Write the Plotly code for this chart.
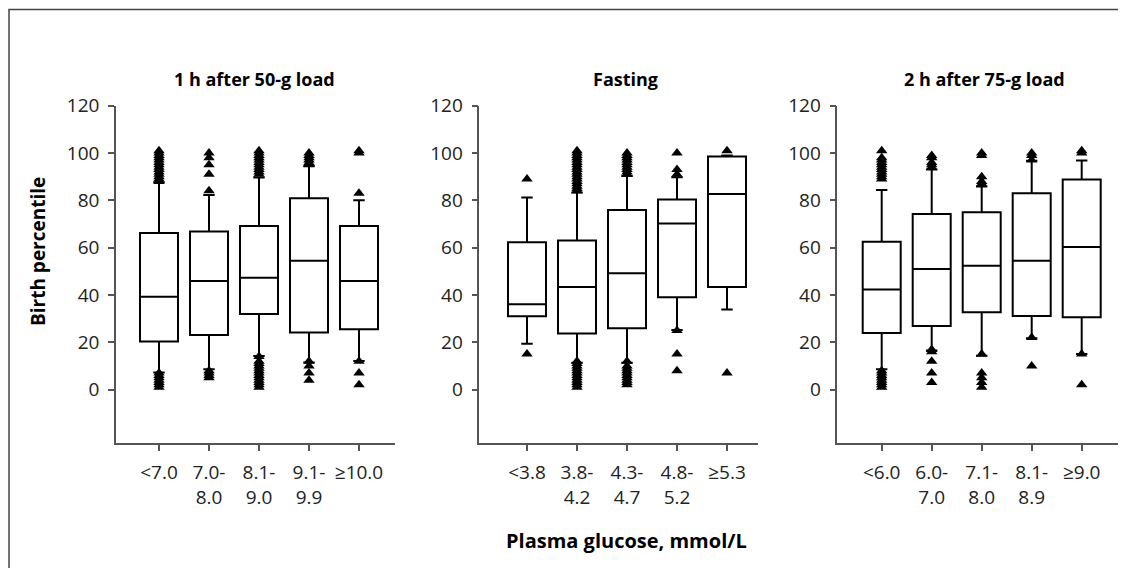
import plotly.graph_objects as go

# ---------------- data ----------------
panel_titles = ["1 h after 50-g load", "Fasting", "2 h after 75-g load"]

cats_50g = ["<7.0", "7.0-<br>8.0", "8.1-<br>9.0", "9.1-<br>9.9", "≥10.0"]
cats_fast = ["<3.8", "3.8-<br>4.2", "4.3-<br>4.7", "4.8-<br>5.2", "≥5.3"]
cats_75g = ["<6.0", "6.0-<br>7.0", "7.1-<br>8.0", "8.1-<br>8.9", "≥9.0"]

# box statistics (lower whisker, Q1, median, Q3, upper whisker)
low_50g = [7.2, 8.6, 14.2, 11.5, 12.1]
q1_50g = [20.3, 23.1, 32.0, 24.1, 25.5]
med_50g = [39.2, 45.9, 47.3, 54.5, 45.9]
q3_50g = [66.2, 66.8, 69.2, 80.9, 69.2]
up_50g = [87.6, 82.3, 89.6, 94.5, 80.0]

low_fast = [19.4, 11.4, 11.4, 25.2, 33.9]
q1_fast = [31.0, 23.7, 25.9, 39.0, 43.4]
med_fast = [36.1, 43.4, 49.2, 70.2, 82.7]
q3_fast = [62.3, 63.0, 75.9, 80.3, 98.5]
up_fast = [81.2, 83.3, 90.3, 89.8, 98.9]

low_75g = [8.6, 16.5, 14.3, 21.7, 15.0]
q1_75g = [23.9, 26.9, 32.7, 31.1, 30.6]
med_75g = [42.3, 51.0, 52.3, 54.5, 60.3]
q3_75g = [62.5, 74.2, 75.0, 83.0, 88.8]
up_75g = [84.4, 93.0, 85.8, 96.7, 96.8]

# outliers: (category index, value)
out_50g_cat = ([0] * 21) + ([1] * 9) + ([2] * 24) + ([3] * 10) + ([4] * 6)
out_50g_val = [88, 89, 90, 91, 92, 93, 94, 95, 96, 97, 98, 99, 100, 101, 1, 2, 3, 4, 5, 6, 7,
               84, 91, 95, 98, 100, 5, 6, 7, 8,
               91, 92, 93, 94, 95, 96, 97, 98, 99, 100, 101, 1, 2, 3, 4, 5, 6, 7, 8, 9, 10, 11, 12, 14,
               95, 96, 97, 98, 99, 100, 4, 7, 10, 12,
               83, 100, 101, 2, 7, 12]

out_fast_cat = ([0] * 2) + ([1] * 30) + ([2] * 20) + ([3] * 6) + ([4] * 2)
out_fast_val = [89, 15,
                84, 85, 86, 87, 88, 89, 90, 91, 92, 93, 94, 95, 96, 97, 98, 99, 100, 101,
                1, 2, 3, 4, 5, 6, 7, 8, 9, 10, 11, 12,
                91, 92, 93, 94, 95, 96, 97, 98, 99, 100, 2, 3, 4, 5, 6, 7, 8, 9, 10, 12,
                91, 93, 100, 25, 15, 8,
                101, 7]

out_75g_cat = ([0] * 19) + ([1] * 10) + ([2] * 10) + ([3] * 5) + ([4] * 4)
out_75g_val = [89, 90, 91, 92, 93, 94, 95, 96, 97, 98, 101, 1, 2, 3, 4, 5, 6, 7, 8,
               94, 95, 96, 98, 99, 3, 7, 12, 16, 17,
               87, 88, 90, 99, 100, 1, 3, 5, 7, 15,
               97, 99, 100, 10, 22,
               100, 101, 2, 15]

y_ticks = [0, 20, 40, 60, 80, 100, 120]

# ---------------- figure ----------------
OFF = 8  # page body margin around the rendered figure
W, H = 1126 - 2 * OFF, 576 - 2 * OFF  # fits the window without scrollbars

def px_x(v):
    return (v - OFF) / W

def px_y(v):
    return 1 - (v - OFF) / H

panels = [
    (cats_50g, low_50g, q1_50g, med_50g, q3_50g, up_50g, out_50g_cat, out_50g_val),
    (cats_fast, low_fast, q1_fast, med_fast, q3_fast, up_fast, out_fast_cat, out_fast_val),
    (cats_75g, low_75g, q1_75g, med_75g, q3_75g, up_75g, out_75g_cat, out_75g_val),
]
x_domains = [[px_x(116), px_x(395)], [px_x(479.3), px_x(758)], [px_x(837.3), 1.0]]
x_ranges = [[-0.86, 4.72], [-0.954, 4.62], [-0.888, 4.726]]
y_domain = [px_y(443.3), px_y(105.7)]
title_x = [254, 625, 984]

fig = go.Figure()
axis_color = "#555555"
text_color = "#222222"
font_family = "Open Sans"

for i, (cats, lo, q1, med, q3, up, oc, ov) in enumerate(panels):
    xa = "x" if i == 0 else f"x{i + 1}"
    ya = "y" if i == 0 else f"y{i + 1}"
    xs = list(range(len(cats)))
    fig.add_trace(go.Box(
        x=xs, q1=q1, median=med, q3=q3, lowerfence=lo, upperfence=up,
        width=0.76, whiskerwidth=0.3, fillcolor="white",
        line=dict(color="black", width=2), boxpoints=False,
        xaxis=xa, yaxis=ya, hoverinfo="skip",
    ))
    fig.add_trace(go.Scatter(
        x=oc, y=ov, mode="markers",
        marker=dict(symbol="triangle-up", size=10, color="black"),
        xaxis=xa, yaxis=ya, hoverinfo="skip",
    ))
    axis_common = dict(
        showline=True, linecolor=axis_color, linewidth=1.5,
        ticks="outside", ticklen=6, tickwidth=1.5, tickcolor=axis_color,
        showgrid=False, zeroline=False, automargin=False,
        tickfont=dict(family=font_family, size=19, color=text_color),
    )
    key = "" if i == 0 else str(i + 1)
    fig.layout["xaxis" + key] = dict(
        domain=x_domains[i], range=x_ranges[i], anchor=ya,
        tickmode="array", tickvals=xs, ticktext=cats, ticklabelstandoff=5,
        **axis_common,
    )
    fig.layout["yaxis" + key] = dict(
        domain=y_domain, range=[-22.7, 120], anchor=xa,
        tickmode="array", tickvals=y_ticks, ticktext=[str(v) for v in y_ticks],
        ticklabelstandoff=5, **axis_common,
    )
    fig.add_annotation(
        text=f"<b>{panel_titles[i]}</b>", xref="paper", yref="paper",
        x=px_x(title_x[i]), y=px_y(79), showarrow=False,
        xanchor="center", yanchor="middle",
        font=dict(family=font_family, size=18, color="black"),
    )

fig.add_annotation(
    text="<b>Birth percentile</b>", xref="paper", yref="paper",
    x=px_x(37.5), y=px_y(251.5), textangle=-90, showarrow=False,
    xanchor="center", yanchor="middle",
    font=dict(family=font_family, size=19, color="black"),
)
fig.add_annotation(
    text="<b>Plasma glucose, mmol/L</b>", xref="paper", yref="paper",
    x=px_x(626), y=px_y(540), showarrow=False,
    xanchor="center", yanchor="middle",
    font=dict(family=font_family, size=20, color="black"),
)

# outer frame: only its left and top edges are visible in the reference
fx0, fy_top = 1.0, 1.5
fig.add_shape(type="path", xref="paper", yref="paper",
              path=f"M {fx0 / W},-0.05 L {fx0 / W},{1 - fy_top / H} L 1.05,{1 - fy_top / H}",
              line=dict(color="#444444", width=1.5))

fig.update_layout(
    width=W, height=H, margin=dict(l=0, r=0, t=0, b=0, autoexpand=False),
    showlegend=False, plot_bgcolor="white", paper_bgcolor="white",
    font=dict(family=font_family, color=text_color),
)

fig.write_html("out.html")
